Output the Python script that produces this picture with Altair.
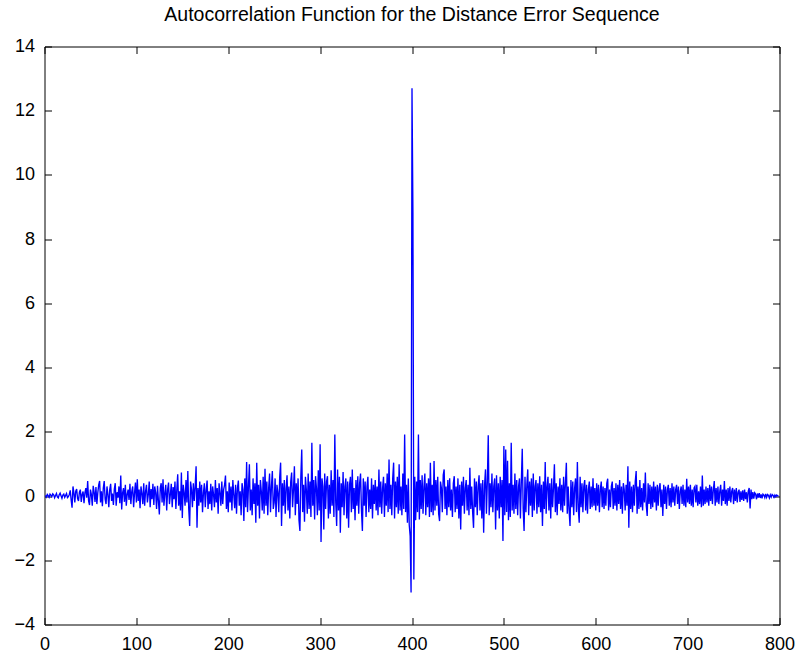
import altair as alt
import pandas as pd

# Autocorrelation values (one per lag index 1..799)
acf_values = [
    0.02,-0.03,0.05,0.01,-0.04,0.06,0.03,-0.02,0.07,0.04,-0.05,0.02,0.08,-0.03,-0.06,0.04,0.09,0.01,-0.07,0.03,
    0.06,-0.04,0.02,0.08,-0.05,-0.02,0.05,0.18,-0.12,-0.36,0.3,0.1,-0.2,0.15,0.22,-0.08,-0.15,0.12,0.2,-0.18,
    0.05,0.14,-0.22,0.1,0.25,-0.05,0.47,-0.15,-0.28,0.2,0.05,-0.3,0.32,0.12,-0.18,0.28,-0.25,0.1,0.35,0.47,
    -0.2,0.15,-0.32,0.25,0.47,-0.1,-0.25,0.3,0.05,-0.35,0.2,0.38,-0.15,0.08,-0.28,0.22,0.4,-0.3,0.12,-0.05,
    0.3,-0.22,0.64,-0.42,0.1,0.25,-0.18,0.35,-0.3,0.05,0.2,-0.12,0.38,-0.25,0.15,0.3,-0.35,0.1,0.42,-0.2,
    0.52,-0.15,0.2,-0.38,0.3,0.08,-0.25,0.4,-0.3,0.15,0.35,-0.2,0.05,0.45,-0.35,0.22,-0.1,0.38,-0.28,0.3,
    0.1,-0.4,0.32,-0.15,-0.57,0.25,0.4,-0.2,0.52,-0.3,0.1,0.35,-0.45,0.2,0.42,-0.25,0.05,0.38,-0.35,0.28,
    -0.1,0.45,-0.4,0.2,0.68,-0.3,0.15,-0.45,0.73,-0.68,0.35,0.1,-0.3,0.5,-0.2,0.78,-0.4,-0.93,0.45,0.2,
    -0.35,0.4,-0.15,0.3,0.93,-0.99,0.25,-0.3,0.45,-0.2,0.35,-0.5,0.1,0.4,-0.35,0.2,0.48,-0.4,0.15,-0.25,
    0.38,-0.45,0.3,0.05,-0.35,0.5,-0.2,0.25,-0.55,0.4,0.1,-0.3,0.45,-0.25,0.2,0.35,0.64,-0.4,0.15,-0.5,
    0.42,-0.2,0.3,-0.45,0.5,0.05,-0.38,0.35,-0.55,0.25,0.48,-0.3,0.15,-0.6,0.4,0.2,-0.78,0.55,-0.35,1.06,
    -0.5,0.3,0.99,-0.45,0.2,-0.6,0.55,-0.25,0.4,-0.83,1.04,-0.3,0.35,-0.7,0.5,0.15,-0.45,0.6,-0.55,0.85,
    -0.3,0.45,-0.6,0.25,0.7,-0.5,0.3,0.78,-0.4,-0.2,0.55,-0.65,0.35,0.1,-0.5,0.6,1.04,-0.93,0.4,-0.3,
    0.5,-0.55,0.25,0.65,-0.45,0.3,-0.7,0.45,0.73,-0.35,0.2,0.93,-0.6,0.4,-0.25,0.55,-0.75,-1.09,0.6,1.45,
    -0.5,0.35,-0.8,0.6,0.2,-0.55,0.7,-0.4,0.45,-0.65,1.66,-0.3,0.5,-0.73,0.62,0.25,-0.6,0.8,-0.45,1.61,
    -1.43,0.55,0.3,-1.04,0.7,-0.4,0.45,0.62,-0.7,0.35,-0.55,0.8,-0.3,0.5,-0.65,1.92,-0.2,-0.93,0.83,-0.45,
    0.6,-1.14,0.4,-0.35,0.75,-0.6,0.3,0.55,-0.7,0.45,-0.99,0.35,0.6,-0.5,0.83,-0.4,0.25,-0.75,0.5,-0.3,
    0.62,-0.55,0.4,0.7,-0.45,-1.09,0.55,-0.3,0.45,-0.65,0.3,0.6,-0.5,0.2,-0.4,0.55,-0.7,0.35,-0.25,0.5,
    -0.45,0.3,-0.6,0.83,-0.35,0.45,-0.55,0.25,0.6,-0.65,0.4,-0.3,0.7,-0.5,1.14,-0.4,0.35,-0.6,0.55,1.04,
    -0.7,0.45,-0.35,0.6,-0.55,0.99,-0.45,0.3,-0.6,0.7,-0.4,1.92,-0.5,0.35,-0.83,0.55,-0.9,-1.25,-3.0,12.7,
    8.8,-2.6,0.6,-0.75,0.45,-0.5,1.92,-0.73,0.5,-0.4,0.65,-0.55,0.3,0.7,-0.6,0.4,-0.35,0.55,-0.65,1.04,
    -0.5,0.35,-0.6,1.09,-0.45,0.5,-0.3,0.6,-0.55,-0.78,0.45,0.25,-0.5,0.65,0.83,-0.4,0.3,-0.6,0.5,-0.35,
    0.55,-0.45,0.2,-0.65,0.4,0.62,-0.5,0.3,-0.4,0.55,-0.7,0.35,-1.04,0.45,-0.3,0.6,-0.55,0.25,0.5,-0.45,
    0.35,-0.6,0.88,-0.4,0.3,-0.5,-0.99,0.55,-0.35,0.45,-0.6,0.3,0.65,-0.45,0.4,-0.7,0.5,-1.14,0.35,0.83,
    -0.55,0.45,1.89,-0.6,0.4,-0.35,0.7,-0.5,0.3,0.55,-1.04,0.65,-0.45,0.4,-0.7,0.6,-0.35,0.5,-1.4,1.56,
    -0.6,1.45,-0.5,1.1,-0.75,0.4,-0.65,1.66,-0.45,0.35,-0.55,0.7,-0.4,0.5,-0.6,0.3,0.55,-0.7,0.45,1.47,
    -0.4,-1.09,0.6,-0.5,0.35,0.83,-0.6,0.45,-0.3,0.55,-0.65,0.7,-0.45,0.3,0.5,-0.55,0.4,-0.35,0.62,-0.5,
    0.35,-0.93,0.45,-0.4,1.06,-0.55,0.3,0.6,-0.45,0.4,-0.7,0.55,-0.35,0.25,0.99,-0.5,0.4,-0.6,0.3,-0.25,
    0.55,-0.45,0.35,-0.5,0.6,-0.3,0.4,1.04,-0.55,0.3,-0.45,-0.93,0.5,-0.35,0.45,-0.6,0.25,0.55,-0.5,1.06,
    -0.4,-0.83,0.6,-0.35,0.4,-0.5,0.3,0.5,-0.45,0.35,-0.55,0.2,0.45,-0.4,0.3,-0.35,0.55,-0.3,0.25,-0.45,
    0.4,-0.3,0.35,-0.5,0.2,0.45,-0.35,0.3,-0.4,0.25,-0.3,0.4,0.54,-0.45,0.2,-0.35,0.3,0.45,-0.4,0.25,
    -0.3,0.4,-0.45,0.35,-0.25,0.5,-0.4,0.3,-0.55,0.4,0.2,-0.45,0.35,-0.3,0.93,-0.99,0.45,-0.4,0.3,-0.5,
    0.35,-0.3,0.45,0.78,-0.55,0.3,-0.4,0.5,-0.35,0.25,-0.45,0.4,-0.2,0.73,-0.3,-0.62,0.4,-0.25,0.35,-0.4,
    0.3,-0.35,0.45,-0.2,0.3,-0.45,0.35,-0.3,0.25,0.4,-0.35,0.2,-0.62,0.35,-0.25,0.3,-0.4,0.2,0.35,-0.3,
    0.25,-0.35,0.4,-0.2,0.3,-0.3,0.2,0.35,-0.25,0.3,-0.4,0.15,0.3,-0.25,0.35,-0.3,0.2,-0.35,0.54,-0.2,
    0.3,-0.25,0.35,-0.3,0.2,-0.35,0.25,0.3,-0.2,0.35,-0.3,0.15,-0.25,0.3,-0.35,0.64,-0.3,0.2,-0.25,0.3,
    -0.2,0.25,-0.3,0.35,-0.15,0.3,-0.25,0.2,0.47,-0.3,0.25,-0.2,0.3,-0.25,0.15,0.35,-0.3,0.2,-0.15,0.47,
    -0.25,0.2,-0.3,0.25,-0.15,0.3,-0.2,0.15,0.25,-0.25,0.2,-0.15,0.25,-0.2,0.12,0.2,-0.18,0.15,-0.12,0.18,
    -0.15,0.2,-0.1,0.12,-0.2,0.15,0.25,-0.39,0.2,-0.1,0.12,-0.08,0.1,0.06,-0.1,0.08,-0.05,0.09,-0.06,0.05,
    -0.07,0.06,0.03,-0.05,0.07,-0.04,0.05,0.02,-0.06,0.04,-0.03,0.05,0.02,-0.04,0.03,-0.02,0.03,0.01,-0.01,
]
lags = list(range(1, len(acf_values) + 1))

x_ticks = [0, 100, 200, 300, 400, 500, 600, 700, 800]
y_ticks = [-4, -2, 0, 2, 4, 6, 8, 10, 12, 14]

df = pd.DataFrame({"lag": lags, "acf": acf_values})

FONT = "Liberation Sans"

x_scale = alt.Scale(domain=[0, 800], nice=False, zero=False)
y_scale = alt.Scale(domain=[-4, 14], nice=False, zero=False)

common_axis = dict(
    domain=False, grid=False, ticks=True, tickSize=7, offset=-7,
    tickColor="#000000", tickWidth=1, labelFlush=False,
    labelFont=FONT, labelFontSize=18, labelColor="#000000",
    title=None,
)

line = alt.Chart(df).mark_line(color="#0000ff", strokeWidth=1.35, clip=True).encode(
    x=alt.X("lag:Q", scale=x_scale,
            axis=alt.Axis(orient="bottom", values=x_ticks, labelPadding=11, **common_axis)),
    y=alt.Y("acf:Q", scale=y_scale,
            axis=alt.Axis(orient="left", values=y_ticks, labelPadding=10, **common_axis)),
)

mirror = alt.Chart(df).mark_line(opacity=0, strokeOpacity=0).encode(
    x=alt.X("lag:Q", scale=x_scale,
            axis=alt.Axis(orient="top", values=x_ticks, labels=False, **common_axis)),
    y=alt.Y("acf:Q", scale=y_scale,
            axis=alt.Axis(orient="right", values=y_ticks, labels=False, **common_axis)),
)

chart = (
    alt.layer(line, mirror)
    .resolve_axis(x="independent", y="independent")
    .properties(
        width=735,
        height=578,
        background="#ffffff",
        autosize=alt.AutoSizeParams(type="none"),
        padding={"left": 44.5, "top": 46.5, "right": 20.5, "bottom": 31.5},
        title=alt.TitleParams(
            "Autocorrelation Function for the Distance Error Sequence",
            font=FONT, fontSize=19.5, fontWeight="normal", color="#000000",
            anchor="middle", offset=12,
        ),
    )
    .configure_view(stroke="#000000", strokeWidth=1)
)

chart.save("out.html", embed_options={"renderer": "svg", "actions": False})
